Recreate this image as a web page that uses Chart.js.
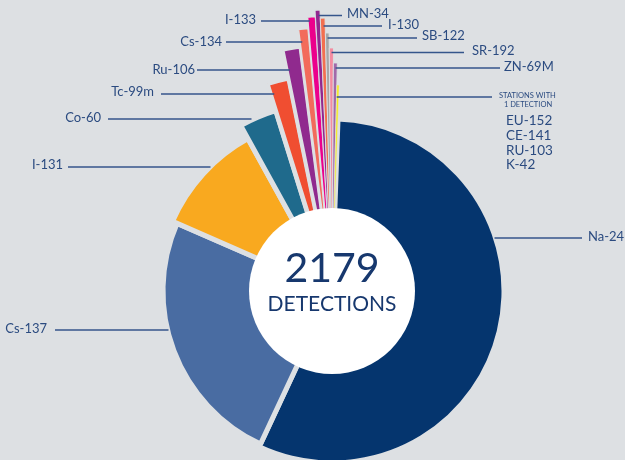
<!DOCTYPE html>
<html><head><meta charset="utf-8">
<script src="https://cdn.jsdelivr.net/npm/chart.js@4.4.1/dist/chart.umd.min.js"></script>
<style>html,body{margin:0;padding:0;background:#dde0e3;}canvas{display:block}</style>
</head><body>
<canvas id="c" width="625" height="460"></canvas>
<script>
// ---- data ----
const categories = ['Na-24','Cs-137','I-131','Co-60','Tc-99m','Ru-106','Cs-134','I-133','MN-34','I-130','SB-122','SR-192','ZN-69M','STATIONS WITH 1 DETECTION'];
const detections = [1229,536,227,70,35,25,14,10,6,6,5,6,6,4];
const singleStations = ['EU-152','CE-141','RU-103','K-42'];
const centerCaption = 'DETECTIONS';

// ---- style ----
const BG = '#dde0e3';
const colors = ['#05356e','#496ca2','#f9a91f','#1f6a8c','#f04e31','#902a8e','#f26b5b','#ec008c','#92278f','#f36f4f','#a6a6a6','#f48ba0','#a169a9','#f7ec1a'];
const sliceOuterRadius = [172,169,174,189,217,246,264,275,281,273,258,243,228,206];
const gapWidths = [5,5,5,5,4.5,3.5,2.5,1.5,0.9,0.9,0.9,0.9,0.9,0.6];
const textColor = '#2b4b80';
const lineColor = '#34558b';
const labelLayout = [
  {i:0, side:'r', tx:588, ty:237, lx:582, ly:238},
  {i:1, side:'l', tx:47,  ty:329, lx:55,  ly:330},
  {i:2, side:'l', tx:63,  ty:165, lx:68,  ly:167},
  {i:3, side:'l', tx:101, ty:118, lx:108, ly:119},
  {i:4, side:'l', tx:154, ty:92,  lx:161, ly:94},
  {i:5, side:'l', tx:195, ty:70,  lx:197, ly:70},
  {i:6, side:'l', tx:222, ty:42,  lx:226, ly:42},
  {i:7, side:'l', tx:256, ty:20,  lx:261, ly:21},
  {i:8, side:'r', tx:347, ty:14,  lx:342, ly:15.5},
  {i:9, side:'r', tx:388, ty:25,  lx:382, ly:26},
  {i:10, side:'r', tx:422, ty:36, lx:417, ly:38},
  {i:11, side:'r', tx:472, ty:51, lx:464, ly:52.5},
  {i:12, side:'r', tx:504, ty:67, lx:500, ly:68},
  {i:13, side:'r', tx:499, ty:96, lx:492, ly:97}
];
const FONT = 'Lato, "Open Sans", sans-serif';

const decoPlugin = {
  id: 'deco',
  beforeDatasetsDraw(chart) {
    const meta = chart.getDatasetMeta(0);
    meta.data.forEach((el, i) => { el.outerRadius = sliceOuterRadius[i]; });
  },
  afterDatasetsDraw(chart) {
    const ctx = chart.ctx;
    const meta = chart.getDatasetMeta(0);
    const cx = meta.data[0].x, cy = meta.data[0].y;
    ctx.save();
    ctx.beginPath(); ctx.arc(cx, cy, 83, 0, Math.PI * 2);
    ctx.fillStyle = '#ffffff'; ctx.fill();
    const total = detections.reduce((a, b) => a + b, 0);
    ctx.fillStyle = '#17386e';
    ctx.textAlign = 'center'; ctx.textBaseline = 'alphabetic';
    ctx.font = '400 41px ' + FONT;
    ctx.fillText(String(total), cx, 282);
    ctx.font = '400 21px ' + FONT;
    ctx.fillText(centerCaption, cx, 311);

    // leader lines + labels
    labelLayout.forEach(L => {
      const el = meta.data[L.i];
      const dir = L.side === 'l' ? 1 : -1;
      let x = L.lx, n = 0;
      while (!el.inRange(x, L.ly) && n < 700) { x += dir; n++; }
      const end = x + dir * (gapWidths[L.i] / 2 + 1);
      ctx.beginPath(); ctx.moveTo(L.lx, L.ly); ctx.lineTo(end, L.ly);
      ctx.strokeStyle = lineColor; ctx.lineWidth = 1.5; ctx.stroke();
      ctx.fillStyle = textColor; ctx.textBaseline = 'middle';
      if (L.i === 13) {
        ctx.font = '400 7.5px ' + FONT; ctx.textAlign = 'left';
        ctx.fillText('STATIONS WITH', L.tx, L.ty);
        ctx.textAlign = 'center';
        ctx.fillText('1 DETECTION', L.tx + 29, L.ty + 9);
        ctx.font = '400 13.5px ' + FONT; ctx.textAlign = 'left';
        singleStations.forEach((s, k) => ctx.fillText(s, 506, 121 + k * 14.7));
      } else {
        ctx.font = '400 13px ' + FONT;
        ctx.textAlign = L.side === 'l' ? 'right' : 'left';
        ctx.fillText(categories[L.i], L.tx, L.ty);
      }
    });
    ctx.restore();
  }
};

new Chart(document.getElementById('c'), {
  type: 'doughnut',
  data: {
    labels: categories,
    datasets: [{
      data: detections,
      backgroundColor: colors,
      borderColor: BG,
      borderWidth: gapWidths,
      clip: false
    }]
  },
  options: {
    responsive: false,
    animation: false,
    events: [],
    rotation: 2,
    cutout: 40,
    layout: { padding: { left: 39, right: 0, top: 122, bottom: 0 } },
    plugins: { legend: { display: false }, tooltip: { enabled: false } }
  },
  plugins: [decoPlugin]
});
</script>
</body></html>
